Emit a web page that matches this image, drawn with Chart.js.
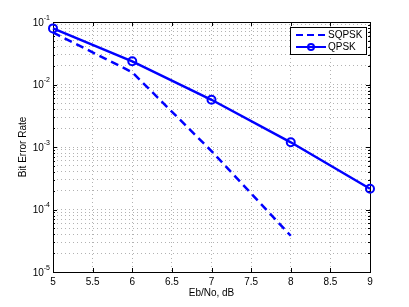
<!DOCTYPE html>
<html>
<head>
<meta charset="utf-8">
<script src="https://cdn.jsdelivr.net/npm/chart.js@4/dist/chart.umd.min.js"></script>
<style>
  html, body { margin: 0; padding: 0; background: #fff; }
  #wrap { width: 409px; height: 307px; }
</style>
</head>
<body>
<div id="wrap"><canvas id="berChart"></canvas></div>
<script>
// data
const ebNoQpsk = [5, 6, 7, 8, 9];
const berQpsk = [0.079, 0.0235, 0.0057, 0.00119, 0.000215];
const ebNoSqpsk = [5, 6, 7, 8];
const berSqpsk = [0.068, 0.0157, 0.00086, 0.000038];

const xTicks = [5, 5.5, 6, 6.5, 7, 7.5, 8, 8.5, 9];
const yDecades = [1e-5, 1e-4, 1e-3, 1e-2, 1e-1];
const yDecadeExp = ['-5', '-4', '-3', '-2', '-1'];
const seriesNames = ['SQPSK', 'QPSK'];

const FONT = '"Liberation Sans", Arial, sans-serif';
const blue = '#0000ff';

// grid lines at 1..9 x each decade (log minor grid)
const yGrid = [];
yDecades.forEach((d, i) => {
  if (i === yDecades.length - 1) { yGrid.push(d); return; }
  for (let m = 1; m <= 9; m++) yGrid.push(+(m * d).toPrecision(3));
});

const toXY = (xs, ys) => xs.map((x, i) => ({ x: x, y: ys[i] }));

// box, inner tick marks, axis titles, decade labels and legend
const matlabAxes = {
  id: 'matlabAxes',
  beforeDatasetsDraw(chart) {
    const { ctx, chartArea: a, scales: { x, y } } = chart;
    ctx.save();
    ctx.strokeStyle = '#000';
    ctx.lineWidth = 1;
    ctx.beginPath();
    xTicks.forEach(v => {
      const px = Math.round(x.getPixelForValue(v)) + 0.5;
      ctx.moveTo(px, a.bottom); ctx.lineTo(px, a.bottom - 4);
      ctx.moveTo(px, a.top); ctx.lineTo(px, a.top + 4);
    });
    yGrid.forEach(v => {
      const major = yDecades.includes(v);
      const len = major ? 4 : 2;
      const py = Math.round(y.getPixelForValue(v)) + 0.5;
      ctx.moveTo(a.left, py); ctx.lineTo(a.left + len, py);
      ctx.moveTo(a.right, py); ctx.lineTo(a.right - len, py);
    });
    ctx.stroke();
    ctx.strokeRect(Math.round(a.left) + 0.5, Math.round(a.top) + 0.5,
      Math.round(a.right - a.left), Math.round(a.bottom - a.top));
    ctx.restore();
  },
  afterDraw(chart) {
    const { ctx, chartArea: a, scales: { y } } = chart;
    ctx.save();
    ctx.fillStyle = '#000';

    // y decade labels as 10 with raised exponent
    yDecades.forEach((v, i) => {
      const py = y.getPixelForValue(v);
      ctx.font = '7px ' + FONT;
      ctx.textAlign = 'right';
      ctx.textBaseline = 'middle';
      const supW = ctx.measureText(yDecadeExp[i]).width;
      ctx.fillText(yDecadeExp[i], 50, py - 4);
      ctx.font = '10px ' + FONT;
      ctx.fillText('10', 50 - supW, py + 1);
    });

    // axis titles
    ctx.font = '10px ' + FONT;
    ctx.textAlign = 'center';
    ctx.textBaseline = 'middle';
    ctx.fillText('Eb/No, dB', (a.left + a.right) / 2, 293);
    ctx.save();
    ctx.translate(23, (a.top + a.bottom) / 2);
    ctx.rotate(-Math.PI / 2);
    ctx.fillText('Bit Error Rate', 0, 0);
    ctx.restore();

    // legend box
    const lx = 290.5, ly = 27.5, lw = 76, lh = 27;
    ctx.fillStyle = '#fff';
    ctx.fillRect(lx, ly, lw, lh);
    ctx.strokeStyle = '#000';
    ctx.lineWidth = 1;
    ctx.strokeRect(lx, ly, lw, lh);

    const rows = [35, 47];
    ctx.strokeStyle = blue;
    ctx.lineWidth = 2;
    ctx.setLineDash([7, 4]);
    ctx.beginPath(); ctx.moveTo(296, rows[0]); ctx.lineTo(326, rows[0]); ctx.stroke();
    ctx.setLineDash([]);
    ctx.beginPath(); ctx.moveTo(296, rows[1]); ctx.lineTo(326, rows[1]); ctx.stroke();
    ctx.beginPath(); ctx.arc(311, rows[1], 3, 0, Math.PI * 2); ctx.stroke();

    ctx.fillStyle = '#000';
    ctx.font = '10px ' + FONT;
    ctx.textAlign = 'left';
    ctx.textBaseline = 'middle';
    seriesNames.forEach((n, i) => ctx.fillText(n, 328, rows[i] + 0.5));
    ctx.restore();
  }
};

new Chart(document.getElementById('berChart'), {
  type: 'line',
  data: {
    datasets: [{
      label: seriesNames[0],
      data: toXY(ebNoSqpsk, berSqpsk),
      borderColor: blue,
      borderWidth: 2.5,
      borderDash: [8, 5],
      pointRadius: 0,
      tension: 0,
      clip: false
    }, {
      label: seriesNames[1],
      data: toXY(ebNoQpsk, berQpsk),
      borderColor: blue,
      borderWidth: 2.5,
      pointRadius: 4,
      pointBorderWidth: 2,
      pointBorderColor: blue,
      pointBackgroundColor: 'rgba(0,0,0,0)',
      tension: 0,
      clip: false
    }]
  },
  options: {
    responsive: true,
    maintainAspectRatio: false,
    animation: false,
    events: [],
    layout: { padding: { top: 22, right: 39, left: 0, bottom: 0 } },
    plugins: { legend: { display: false }, tooltip: { enabled: false } },
    scales: {
      x: {
        type: 'linear',
        min: 5,
        max: 9,
        afterBuildTicks: scale => { scale.ticks = xTicks.map(v => ({ value: v })); },
        afterFit: scale => { scale.height = 35; },
        grid: { color: 'rgba(0,0,0,0.3)', lineWidth: 1, drawTicks: false },
        border: { display: false, dash: [1, 3] },
        ticks: {
          autoSkip: false,
          maxRotation: 0,
          padding: 4,
          color: '#000',
          font: { family: FONT, size: 10 },
          callback: v => String(v)
        }
      },
      y: {
        type: 'logarithmic',
        min: 1e-5,
        max: 1e-1,
        afterBuildTicks: scale => { scale.ticks = yGrid.map(v => ({ value: v })); },
        afterFit: scale => { scale.width = 53; },
        grid: { color: 'rgba(0,0,0,0.3)', lineWidth: 1, drawTicks: false },
        border: { display: false, dash: [1, 3] },
        ticks: {
          autoSkip: false,
          callback: () => '',
          font: { family: FONT, size: 10 }
        }
      }
    }
  },
  plugins: [matlabAxes]
});
</script>
</body>
</html>
